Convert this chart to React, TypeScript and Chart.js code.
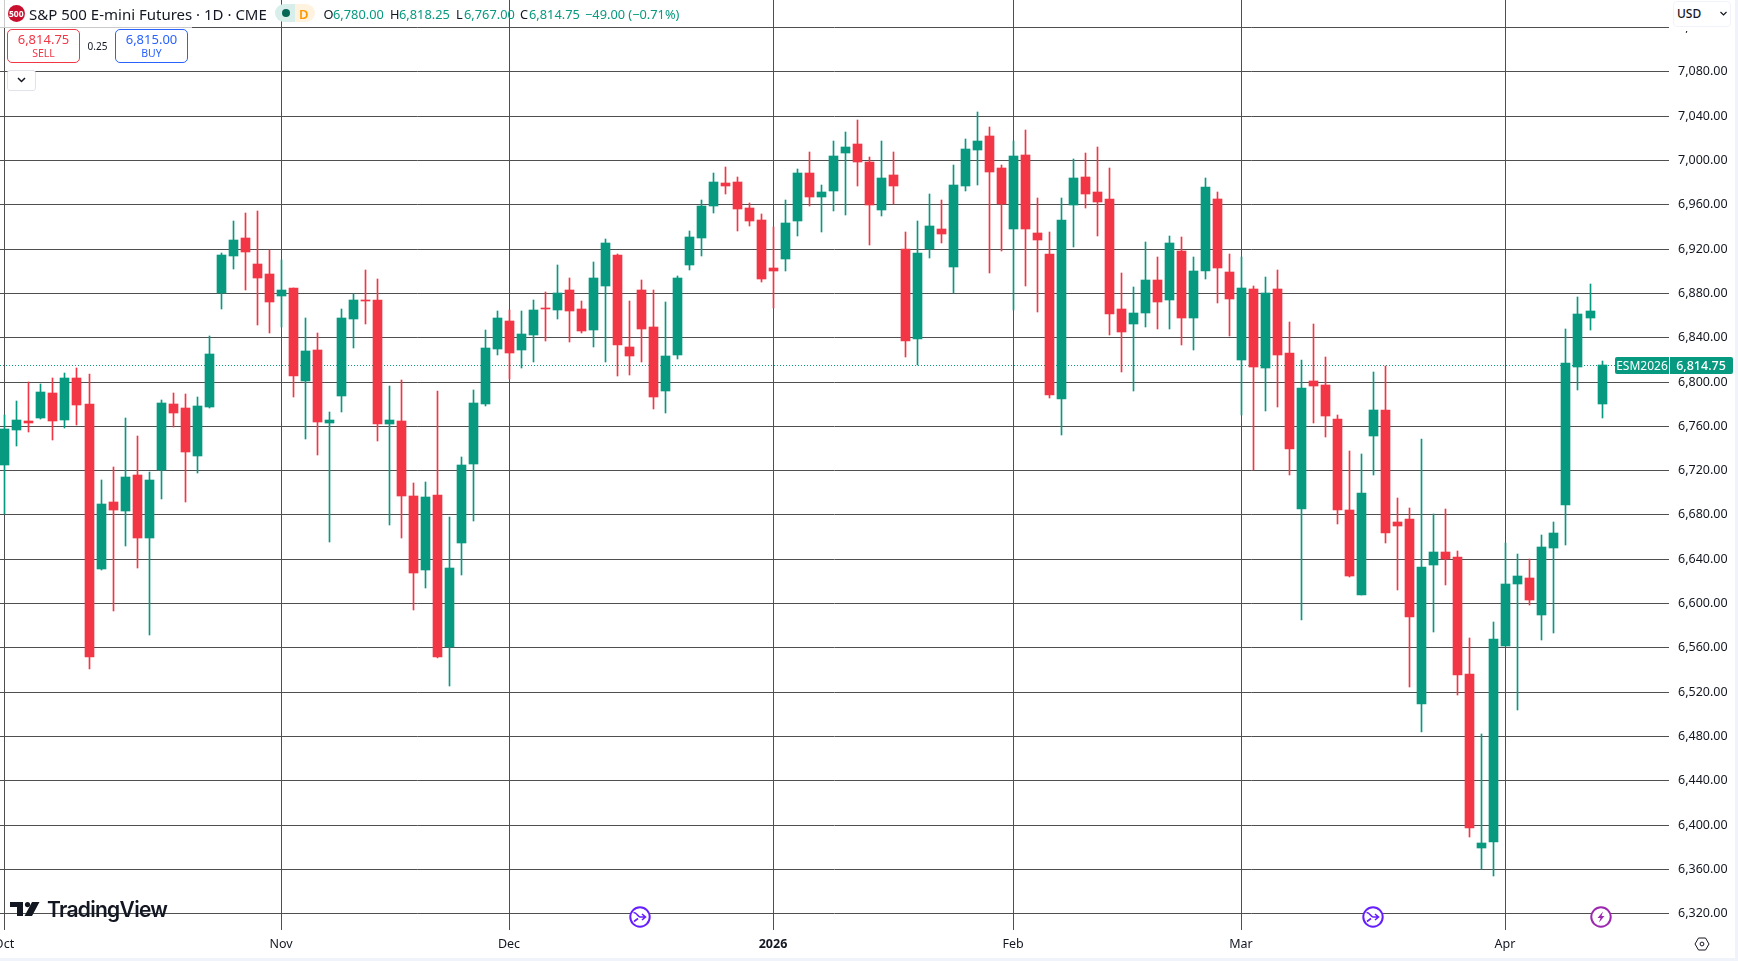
import React, { useEffect, useRef } from "react";
import { Chart, registerables } from "chart.js";

Chart.register(...registerables);

const opens = [
  6724.6, 6756.2, 6764.3, 6767.0, 6789.6, 6765.2, 6803.1, 6779.7, 6630.7, 6691.2,
  6683.1, 6715.6, 6658.7, 6719.8, 6779.7, 6776.1, 6732.7, 6777.0, 6879.6, 6913.3,
  6929.6, 6906.1, 6897.0, 6877.2, 6884.4, 6800.1, 6828.4, 6762.5, 6786.9, 6856.4,
  6873.6, 6873.6, 6761.6, 6764.3, 6696.6, 6629.8, 6697.5, 6560.0, 6654.2, 6725.5,
  6779.7, 6829.3, 6854.6, 6828.4, 6842.0, 6866.4, 6864.6, 6882.6, 6865.4, 6846.5,
  6886.2, 6914.2, 6831.1, 6882.6, 6849.2, 6791.4, 6823.9, 6905.2, 6929.5, 6958.4,
  6979.2, 6980.1, 6956.6, 6945.8, 6902.4, 6910.6, 6944.9, 6988.2, 6966.5, 6972.0,
  7006.3, 7014.4, 6998.1, 6954.8, 6986.4, 6919.3, 6838.4, 6919.3, 6937.6, 6903.4,
  6976.5, 7009.0, 7021.6, 6992.7, 6937.6, 7004.4, 6934.0, 6915.1, 6784.2, 6959.3,
  6984.6, 6971.0, 6964.7, 6865.4, 6851.9, 6861.8, 6891.6, 6873.6, 6917.8, 6857.3,
  6899.8, 6964.8, 6898.9, 6819.4, 6883.5, 6812.2, 6883.5, 6825.7, 6685.0, 6800.2,
  6796.8, 6766.2, 6684.0, 6607.2, 6750.8, 6774.3, 6673.2, 6675.8, 6508.8, 6634.3,
  6646.0, 6641.5, 6535.9, 6378.9, 6384.3, 6561.2, 6617.2, 6622.6, 6589.2, 6649.7,
  6688.5, 6813.1, 6857.3, 6780.0,
];
const highs = [
  6769.8, 6782.4, 6800.0, 6797.7, 6803.0, 6807.7, 6812.2, 6806.8, 6711.0, 6722.8,
  6767.0, 6750.8, 6718.3, 6783.3, 6789.6, 6788.7, 6786.0, 6841.0, 6916.0, 6944.9,
  6952.1, 6953.9, 6918.7, 6909.7, 6884.4, 6857.0, 6843.8, 6772.4, 6865.5, 6879.0,
  6900.7, 6892.6, 6796.0, 6801.3, 6708.4, 6709.3, 6791.4, 6677.7, 6731.8, 6792.3,
  6846.5, 6863.7, 6864.6, 6863.7, 6873.6, 6880.8, 6905.2, 6893.4, 6872.7, 6907.9,
  6928.6, 6915.1, 6872.7, 6891.6, 6882.6, 6871.8, 6895.2, 6935.8, 6963.8, 6988.2,
  6993.6, 6984.6, 6961.1, 6951.2, 6939.5, 6963.8, 6991.8, 7007.2, 6977.4, 7017.1,
  7025.2, 7036.0, 7002.6, 7017.1, 7007.2, 6935.0, 6944.9, 6969.2, 6963.8, 6995.4,
  7018.9, 7043.3, 7029.7, 6995.4, 7017.1, 7027.0, 6965.6, 6935.0, 6965.6, 7000.8,
  7006.3, 7011.7, 6992.7, 6897.9, 6885.3, 6925.9, 6912.4, 6931.4, 6930.5, 6912.4,
  6983.8, 6971.1, 6915.1, 6912.4, 6886.2, 6894.3, 6900.7, 6853.7, 6819.0, 6851.9,
  6822.1, 6769.8, 6737.3, 6734.6, 6808.6, 6814.0, 6694.8, 6685.8, 6748.1, 6680.4,
  6684.9, 6647.0, 6568.4, 6481.8, 6582.9, 6653.9, 6644.3, 6639.4, 6661.4, 6673.1,
  6847.4, 6876.3, 6888.0, 6818.25,
];
const lows = [
  6680.0, 6741.8, 6754.4, 6766.1, 6747.2, 6758.3, 6760.7, 6540.5, 6630.0, 6592.8,
  6651.5, 6631.6, 6571.2, 6693.9, 6758.9, 6691.2, 6717.4, 6776.1, 6865.5, 6901.6,
  6882.6, 6851.0, 6843.8, 6849.5, 6786.0, 6748.0, 6733.6, 6655.1, 6772.4, 6830.2,
  6851.9, 6746.3, 6670.4, 6658.7, 6593.7, 6613.6, 6550.4, 6525.1, 6625.3, 6674.1,
  6777.9, 6823.9, 6801.9, 6812.2, 6817.6, 6836.5, 6856.4, 6835.6, 6843.8, 6831.1,
  6817.6, 6805.0, 6805.9, 6817.6, 6775.2, 6771.5, 6820.3, 6900.6, 6913.3, 6952.1,
  6969.2, 6935.8, 6940.4, 6889.8, 6866.3, 6899.7, 6931.3, 6958.4, 6935.0, 6953.9,
  6950.3, 6976.5, 6923.2, 6949.4, 6960.2, 6822.1, 6814.9, 6911.5, 6925.0, 6879.6,
  6972.0, 6977.4, 6897.9, 6917.8, 6864.5, 6886.2, 6862.7, 6785.1, 6751.7, 6921.4,
  6956.6, 6931.3, 6842.0, 6808.6, 6791.4, 6849.2, 6847.4, 6847.4, 6833.0, 6828.4,
  6892.6, 6870.9, 6841.1, 6769.8, 6720.1, 6773.4, 6777.0, 6715.6, 6585.0, 6762.6,
  6749.9, 6671.4, 6624.0, 6607.0, 6715.6, 6654.2, 6611.8, 6524.2, 6483.6, 6573.8,
  6616.3, 6517.0, 6388.8, 6359.6, 6353.6, 6561.0, 6503.4, 6598.2, 6566.6, 6572.9,
  6652.4, 6792.3, 6846.5, 6767.0,
];
const closes = [
  6757.1, 6765.2, 6762.5, 6790.5, 6764.3, 6803.1, 6778.8, 6551.3, 6689.4, 6684.0,
  6713.8, 6658.7, 6711.1, 6780.6, 6771.5, 6736.3, 6777.9, 6824.8, 6914.2, 6927.8,
  6916.9, 6893.4, 6871.8, 6882.6, 6804.9, 6827.5, 6763.4, 6765.2, 6857.3, 6873.6,
  6872.7, 6761.6, 6765.2, 6696.6, 6627.1, 6695.7, 6551.3, 6631.6, 6724.6, 6780.6,
  6830.2, 6857.3, 6825.7, 6842.9, 6864.6, 6865.5, 6879.6, 6863.7, 6845.6, 6893.4,
  6925.0, 6833.0, 6823.0, 6847.4, 6786.0, 6823.0, 6893.4, 6930.4, 6958.4, 6980.1,
  6976.5, 6955.7, 6944.9, 6892.5, 6899.7, 6943.1, 6988.2, 6966.5, 6971.0, 7003.5,
  7011.7, 6998.1, 6959.3, 6983.7, 6976.5, 6836.5, 6916.0, 6940.4, 6933.1, 6977.4,
  7009.9, 7017.1, 6989.1, 6960.2, 7003.5, 6937.6, 6927.7, 6787.8, 6945.8, 6983.7,
  6969.2, 6962.0, 6860.9, 6844.7, 6861.8, 6891.6, 6871.8, 6925.0, 6857.3, 6899.8,
  6975.6, 6902.5, 6874.5, 6884.4, 6813.1, 6879.6, 6823.9, 6739.0, 6794.1, 6795.9,
  6768.9, 6684.0, 6624.4, 6699.4, 6774.3, 6663.3, 6669.6, 6587.4, 6632.5, 6646.0,
  6639.4, 6535.0, 6396.9, 6383.4, 6567.5, 6617.2, 6624.4, 6602.7, 6650.6, 6663.2,
  6816.7, 6860.9, 6863.7, 6814.75,
];

const monthIndex = [0, 23, 42, 64, 84, 103, 125];
const monthLabels = ["Oct", "Nov", "Dec", "2026", "Feb", "Mar", "Apr"];
const priceTicks = [
  6320, 6360, 6400, 6440, 6480, 6520, 6560, 6600, 6640, 6680, 6720,
  6760, 6800, 6840, 6880, 6920, 6960, 7000, 7040, 7080, 7120,
];
const lastPrice = 6814.75;
const GREEN = "#089981";
const RED = "#F23645";
const INK = "#131722";
const FONT = "'Noto Sans', sans-serif";

const step = 12.008;
const x0 = 4.45;
const plotW = 1669;

const snapPlugin = {
  id: "snapBars",
  beforeDatasetsDraw(chart: any) {
    chart.data.datasets.forEach((ds: any, di: number) => {
      const meta = chart.getDatasetMeta(di);
      if (ds.type === "line") {
        meta.data.forEach((p: any) => {
          p.y = Math.floor(p.y) + 0.5;
        });
        return;
      }
      meta.data.forEach((el: any) => {
        el.x = Math.floor(el.x) + 0.5;
        const top = Math.round(Math.min(el.y, el.base));
        let bot = Math.round(Math.max(el.y, el.base));
        if (bot <= top) bot = top + 1;
        el.y = top;
        el.base = bot;
        el.height = bot - top;
      });
    });
  },
};

const noPadding = (s: any) => {
  s.paddingLeft = s.paddingRight = s.paddingTop = s.paddingBottom = 0;
  if (s._margins) s._margins = { left: 0, right: 0, top: 0, bottom: 0 };
};

function Abs({ x, y, w, h, style, children }: any) {
  return (
    <div
      style={{
        position: "absolute",
        left: x,
        top: y,
        width: w,
        height: h,
        boxSizing: "border-box",
        ...style,
      }}
    >
      {children}
    </div>
  );
}

function Txt({ x, y, size, color, weight, children, center }: any) {
  return (
    <span
      style={{
        position: "absolute",
        left: x,
        top: y,
        transform: center ? "translate(-50%,-50%)" : "translateY(-50%)",
        fontSize: size,
        color,
        fontWeight: weight ?? 400,
        whiteSpace: "nowrap",
        lineHeight: 1,
      }}
    >
      {children}
    </span>
  );
}

export default function App() {
  const ref = useRef<HTMLCanvasElement>(null);
  useEffect(() => {
    if (!ref.current) return;
    const colors = closes.map((c, i) => (c >= opens[i] ? GREEN : RED));
    const idx = closes.map((_, i) => i);
    const chart = new Chart(ref.current, {
      type: "bar",
      plugins: [snapPlugin],
      data: {
        datasets: [
          {
            label: "Bodies",
            order: 1,
            grouped: false,
            barThickness: 9,
            backgroundColor: colors,
            borderWidth: 0,
            data: idx.map((i) => ({ x: i, y: [opens[i], closes[i]] })),
          },
          {
            label: "Wicks",
            order: 2,
            grouped: false,
            barThickness: 1,
            backgroundColor: colors,
            borderWidth: 0,
            data: idx.map((i) => ({ x: i, y: [lows[i], highs[i]] })),
          },
          {
            type: "line",
            label: "Last",
            order: 3,
            borderColor: GREEN,
            borderWidth: 1,
            borderDash: [1, 2],
            pointRadius: 0,
            data: [
              { x: -x0 / step, y: lastPrice },
              { x: (plotW - x0) / step, y: lastPrice },
            ],
          },
        ] as any,
      },
      options: {
        animation: false,
        responsive: false,
        devicePixelRatio: 1,
        layout: { padding: 0, autoPadding: false },
        plugins: { legend: { display: false }, tooltip: { enabled: false } },
        events: [],
        scales: {
          x: {
            type: "linear",
            offset: false,
            min: -x0 / step,
            max: (plotW - x0) / step,
            alignToPixels: true,
            border: { display: false },
            grid: { color: "#4f4f4f", lineWidth: 1, drawTicks: false, offset: false },
            afterBuildTicks: (s: any) => {
              s.ticks = monthIndex.map((v) => ({ value: v }));
            },
            afterFit: (s: any) => {
              s.height = 31;
              noPadding(s);
            },
            ticks: {
              autoSkip: false,
              maxRotation: 0,
              minRotation: 0,
              padding: 7,
              color: INK,
              callback: (v: any) => monthLabels[monthIndex.indexOf(Number(v))] ?? "",
              font: (c: any) => ({
                family: FONT,
                size: 12.5,
                weight: monthLabels[monthIndex.indexOf(c.tick?.value)] === "2026" ? 700 : 400,
              }),
            },
          },
          y: {
            type: "linear",
            position: "right",
            min: 6304.9,
            max: 7144.4,
            alignToPixels: true,
            border: { display: false },
            grid: { color: "#4f4f4f", lineWidth: 1, drawTicks: false },
            afterBuildTicks: (s: any) => {
              s.ticks = priceTicks.map((v) => ({ value: v }));
            },
            afterFit: (s: any) => {
              s.width = 69;
              noPadding(s);
            },
            ticks: {
              autoSkip: false,
              padding: 9,
              color: INK,
              font: { family: FONT, size: 12.5 },
              callback: (v: any) =>
                Number(v).toLocaleString("en-US", {
                  minimumFractionDigits: 2,
                  maximumFractionDigits: 2,
                }),
            },
          },
        },
      } as any,
    });
    return () => chart.destroy();
  }, []);

  return (
    <div
      style={{
        position: "absolute",
        left: 0,
        top: 0,
        width: 1738,
        height: 961,
        overflow: "hidden",
        background: "#fff",
        fontFamily: FONT,
      }}
    >
      <style>{`body{margin:0;overflow:hidden}`}</style>
      <canvas
        ref={ref}
        width={1738}
        height={961}
        style={{ position: "absolute", left: 0, top: 0, width: 1738, height: 961 }}
      />

      {/* page edge */}
      <Abs x={0} y={958} w={1738} h={3} style={{ background: "#f0f3fa" }} />
      <Abs x={1735} y={0} w={3} h={961} style={{ background: "#f0f3fa" }} />

      {/* legend */}
      <Abs x={0} y={0} w={192} h={28} style={{ background: "rgba(255,255,255,.7)" }} />
      <Abs
        x={7.5}
        y={4.5}
        w={17.5}
        h={17.5}
        style={{
          borderRadius: "50%",
          background: "#c8102e",
          color: "#fff",
          fontSize: 8.5,
          fontWeight: 700,
          textAlign: "center",
          lineHeight: "17.5px",
        }}
      >
        500
      </Abs>
      <Txt x={29} y={13.5} size={15} color={INK}>
        S&amp;P 500 E-mini Futures · 1D · CME
      </Txt>
      <Abs
        x={275}
        y={4}
        w={20}
        h={18}
        style={{ background: "#d8eeeb", borderRadius: "9px 0 0 9px" }}
      />
      <Abs
        x={295}
        y={4}
        w={20}
        h={18}
        style={{ background: "#fff3e0", borderRadius: "0 9px 9px 0" }}
      />
      <Abs x={282} y={9} w={8} h={8} style={{ background: "#056656", borderRadius: "50%" }} />
      <Txt x={299} y={13.5} size={13} color="#ff9800" weight={600}>
        D
      </Txt>
      <Txt x={323.5} y={13.5} size={12.8} color={INK}>
        O
      </Txt>
      <Txt x={333} y={13.5} size={12.8} color={GREEN}>
        6,780.00
      </Txt>
      <Txt x={390} y={13.5} size={12.8} color={INK}>
        H
      </Txt>
      <Txt x={399} y={13.5} size={12.8} color={GREEN}>
        6,818.25
      </Txt>
      <Txt x={456} y={13.5} size={12.8} color={INK}>
        L
      </Txt>
      <Txt x={464} y={13.5} size={12.8} color={GREEN}>
        6,767.00
      </Txt>
      <Txt x={520} y={13.5} size={12.8} color={INK}>
        C
      </Txt>
      <Txt x={529} y={13.5} size={12.8} color={GREEN}>
        6,814.75
      </Txt>
      <Txt x={585} y={13.5} size={12.8} color={GREEN}>
        −49.00 (−0.71%)
      </Txt>

      {/* sell / buy */}
      <Abs
        x={7}
        y={29}
        w={73}
        h={34}
        style={{ background: "#fff", border: `1px solid ${RED}`, borderRadius: 5 }}
      />
      <Txt x={43.5} y={39} size={13} color={RED} center>
        6,814.75
      </Txt>
      <Txt x={43.5} y={53} size={10.5} color={RED} center>
        SELL
      </Txt>
      <Txt x={97.5} y={45.5} size={10} color={INK} center>
        0.25
      </Txt>
      <Abs
        x={115}
        y={29}
        w={73}
        h={34}
        style={{ background: "#fff", border: "1px solid #2962ff", borderRadius: 5 }}
      />
      <Txt x={151.5} y={39} size={13} color="#2962ff" center>
        6,815.00
      </Txt>
      <Txt x={151.5} y={53} size={10.5} color="#2962ff" center>
        BUY
      </Txt>
      <Abs
        x={7}
        y={70}
        w={29}
        h={21}
        style={{ background: "#fff", border: "1px solid #e0e3eb", borderRadius: 3 }}
      />
      <svg style={{ position: "absolute", left: 16, top: 76 }} width="11" height="8" viewBox="0 0 11 8">
        <path d="M2 2 L5.5 5.5 L9 2" fill="none" stroke={INK} strokeWidth="1.5" />
      </svg>

      {/* currency */}
      <Abs x={1672} y={27} w={60} h={4} style={{ background: "#fff" }} />
      <Abs
        x={1673}
        y={1}
        w={58}
        h={26}
        style={{ background: "#fff", border: "1px solid #f0f3fa", borderRadius: 4 }}
      />
      <Txt x={1677} y={14} size={12} color={INK} weight={500}>
        USD
      </Txt>
      <svg style={{ position: "absolute", left: 1719, top: 10 }} width="9" height="7" viewBox="0 0 9 7">
        <path d="M1.5 2 L4.5 5 L7.5 2" fill="none" stroke={INK} strokeWidth="1.2" />
      </svg>

      {/* last price tag */}
      <Abs
        x={1615}
        y={357}
        w={54}
        h={17}
        style={{ background: GREEN, borderRadius: "2px 0 0 2px" }}
      />
      <Txt x={1642} y={365.5} size={12} color="#fff" center>
        ESM2026
      </Txt>
      <Abs
        x={1670}
        y={357}
        w={63}
        h={17}
        style={{ background: GREEN, borderRadius: "0 2px 2px 0" }}
      />
      <Txt x={1701} y={365.5} size={12.5} color="#fff" weight={500} center>
        6,814.75
      </Txt>

      {/* logo */}
      <svg style={{ position: "absolute", left: 10, top: 902 }} width="32" height="15" viewBox="0 0 32 15">
        <path d="M0 0 H13 V14 H7 V5 H0 Z M29.5 0 L22 14 H14.5 L22 0 Z" fill={INK} />
        <circle cx="17.5" cy="2.6" r="2.6" fill={INK} />
      </svg>
      <Txt x={47} y={909} size={21} color={INK} weight={600}>
        <span style={{ fontFamily: "Inter", letterSpacing: -0.7 }}>TradingView</span>
      </Txt>

      {/* event markers */}
      <svg style={{ position: "absolute", left: 1362, top: 906 }} width="22" height="22" viewBox="0 0 22 22">
        <circle cx="11" cy="11" r="9.7" fill="#fff" stroke="#651fff" strokeWidth="2" />
        <path
          d="M4.5 6.5 C8 6.5 9 11 11 11 H16 M13 8 L16.5 11 L13 14 M5 15.5 L9 12.5"
          fill="none"
          stroke="#651fff"
          strokeWidth="1.6"
        />
      </svg>
      <svg style={{ position: "absolute", left: 1590, top: 906 }} width="22" height="22" viewBox="0 0 22 22">
        <circle cx="11" cy="11" r="9.7" fill="#fff" stroke="#9c27b0" strokeWidth="2" />
        <path d="M13 5.5 L7.5 12 H10.5 L9 16.5 L14.5 10 H11.5 Z" fill="#9c27b0" />
      </svg>
      <svg style={{ position: "absolute", left: 629, top: 906 }} width="22" height="22" viewBox="0 0 22 22">
        <circle cx="11" cy="11" r="9.7" fill="#fff" stroke="#651fff" strokeWidth="2" />
        <path
          d="M4.5 6.5 C8 6.5 9 11 11 11 H16 M13 8 L16.5 11 L13 14 M5 15.5 L9 12.5"
          fill="none"
          stroke="#651fff"
          strokeWidth="1.6"
        />
      </svg>

      {/* settings */}
      <svg style={{ position: "absolute", left: 1694, top: 937 }} width="16" height="14" viewBox="0 0 16 14">
        <path d="M4.5 1 H11.5 L15 7 L11.5 13 H4.5 L1 7 Z" fill="none" stroke={INK} strokeWidth="1" />
        <circle cx="8" cy="7" r="1.9" fill="none" stroke={INK} strokeWidth="1" />
      </svg>
    </div>
  );
}
